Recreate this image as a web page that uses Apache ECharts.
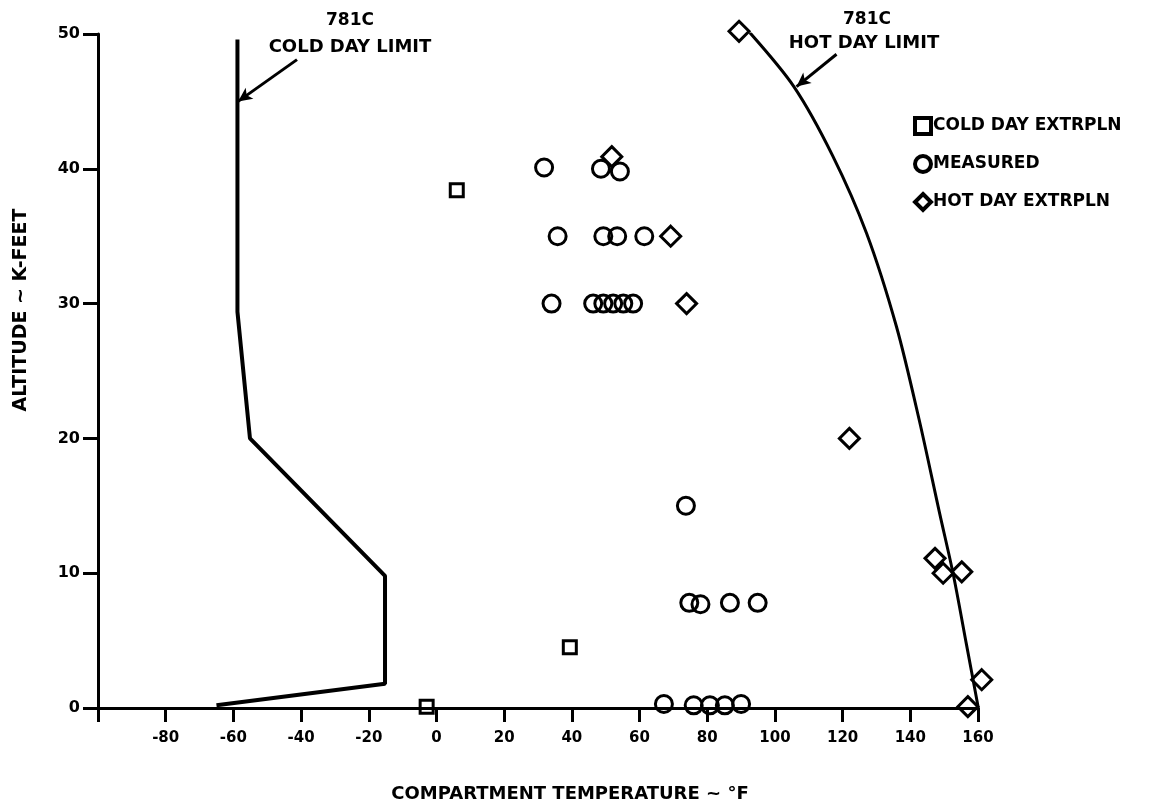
<!DOCTYPE html>
<html><head><meta charset="utf-8">
<script src="https://cdn.jsdelivr.net/npm/echarts@6/dist/echarts.min.js"></script>
<style>html,body{margin:0;padding:0;background:#fff}#c{width:1150px;height:806px}</style>
</head><body><div id="c"></div>
<script>
// ---- data ----
const xTickValues = [-80, -60, -40, -20, 0, 20, 40, 60, 80, 100, 120, 140, 160];
const yTickValues = [0, 10, 20, 30, 40, 50];
const coldDayLimit = [[-58.8, 49.6], [-58.8, 29.4], [-55.1, 20.0], [-15.2, 9.8], [-15.2, 1.8], [-65.0, 0.2]];
const hotDayLimit = [[92.6, 50.1], [105.6, 46.1], [117.0, 41.0], [127.1, 35.2], [135.9, 28.3], [142.6, 21.4], [148.7, 14.4], [152.7, 9.9], [156.6, 4.7], [160.1, 0.0]];
const coldDayExtrpln = [[6.0, 38.4], [39.4, 4.5], [-2.9, 0.1]];
const measured = [
  [31.8, 40.1], [48.6, 40.0], [54.2, 39.8],
  [35.8, 35.0], [49.3, 35.0], [53.4, 35.0], [61.4, 35.0],
  [34.0, 30.0], [46.3, 30.0], [49.3, 30.0], [52.2, 30.0], [55.2, 30.0], [58.1, 30.0],
  [73.7, 15.0],
  [74.7, 7.8], [78.0, 7.7], [86.7, 7.8], [94.9, 7.8],
  [67.2, 0.3], [76.0, 0.2], [80.8, 0.2], [85.2, 0.2], [90.0, 0.3]
];
const hotDayExtrpln = [[89.4, 50.2], [51.8, 40.9], [69.2, 35.0], [73.9, 30.0], [122.0, 20.0], [147.3, 11.1], [149.7, 10.0], [155.2, 10.1], [161.1, 2.1], [157.0, 0.1]];
const coldArrow = [[-41.2, 48.1], [-58.6, 45.0]];
const hotArrow = [[118.2, 48.5], [106.4, 46.1]];
const seriesNames = ['COLD DAY EXTRPLN', 'MEASURED', 'HOT DAY EXTRPLN'];

const FONT = '"DejaVu Sans", "Liberation Sans", sans-serif';
const chart = echarts.init(document.getElementById('c'), null, {renderer: 'canvas'});

const markerStyle = {color: 'rgba(255,255,255,0)', borderColor: '#000', borderWidth: 3, opacity: 1};
function arrow(pts) {
  return {
    silent: true, symbol: ['none', 'arrow'], symbolSize: [10, 14],
    lineStyle: {color: '#000', width: 3, type: 'solid'},
    label: {show: false},
    data: [[{coord: pts[0]}, {coord: pts[1]}]]
  };
}
function txt(x, y, s, size, rot) {
  const o = {type: 'text', x: x, y: y, style: {text: s, align: 'center', verticalAlign: 'middle', font: 'bold ' + size + 'px ' + FONT, fill: '#000'}};
  if (rot) o.rotation = rot;
  return o;
}

const option = {
  backgroundColor: '#fff',
  animation: false,
  grid: {left: 98, right: 172, top: 34, bottom: 98},
  xAxis: {
    type: 'value', min: -100, max: 160, interval: 20,
    axisLine: {onZero: false, lineStyle: {color: '#000', width: 3}},
    axisTick: {show: true, length: 14, lineStyle: {color: '#000', width: 3}},
    axisLabel: {
      margin: 23, color: '#000', fontFamily: FONT, fontWeight: 'bold', fontSize: 15,
      formatter: v => (xTickValues.indexOf(v) >= 0 ? String(v) : '')
    },
    splitLine: {show: false}
  },
  yAxis: {
    type: 'value', min: 0, max: 50, interval: 10,
    axisLine: {onZero: false, lineStyle: {color: '#000', width: 3}},
    axisTick: {show: true, length: 15, lineStyle: {color: '#000', width: 3}},
    axisLabel: {
      margin: 18, color: '#000', fontFamily: FONT, fontWeight: 'bold', fontSize: 16,
      formatter: v => (yTickValues.indexOf(v) >= 0 ? String(v) : '')
    },
    splitLine: {show: false}
  },
  legend: {
    orient: 'vertical', left: 908, top: 111, itemGap: 18,
    itemWidth: 16, itemHeight: 16,
    itemStyle: {borderWidth: 4, borderColor: '#000', color: 'rgba(255,255,255,0)'},
    data: [
      {name: seriesNames[0], icon: 'rect'},
      {name: seriesNames[1], icon: 'circle'},
      {name: seriesNames[2], icon: 'diamond'}
    ],
    textStyle: {color: '#000', fontFamily: FONT, fontWeight: 'bold', fontSize: 17, lineHeight: 16, padding: [0, 0, 0, -3]}
  },
  graphic: [
    txt(350, 21, '781C', 17),
    txt(350, 47, 'COLD DAY LIMIT', 18),
    txt(867, 20, '781C', 17),
    txt(864, 43, 'HOT DAY LIMIT', 18),
    txt(570, 794, 'COMPARTMENT TEMPERATURE ~ °F', 18),
    txt(21, 310, 'ALTITUDE ~ K-FEET', 19, Math.PI / 2)
  ],
  series: [
    {
      name: 'cold limit', type: 'line', data: coldDayLimit, symbol: 'none',
      lineStyle: {color: '#000', width: 4}, silent: true,
      markLine: arrow(coldArrow)
    },
    {
      name: 'hot limit', type: 'line', data: hotDayLimit, symbol: 'none', smooth: 0.3,
      lineStyle: {color: '#000', width: 3}, silent: true,
      markLine: arrow(hotArrow)
    },
    {name: seriesNames[0], type: 'scatter', data: coldDayExtrpln, symbol: 'rect', symbolSize: 13, clip: false, itemStyle: markerStyle},
    {name: seriesNames[1], type: 'scatter', data: measured, symbol: 'circle', symbolSize: 17, clip: false, itemStyle: markerStyle},
    {name: seriesNames[2], type: 'scatter', data: hotDayExtrpln, symbol: 'diamond', symbolSize: [20, 20], clip: false, itemStyle: markerStyle}
  ]
};
chart.setOption(option);
</script>
</body></html>
